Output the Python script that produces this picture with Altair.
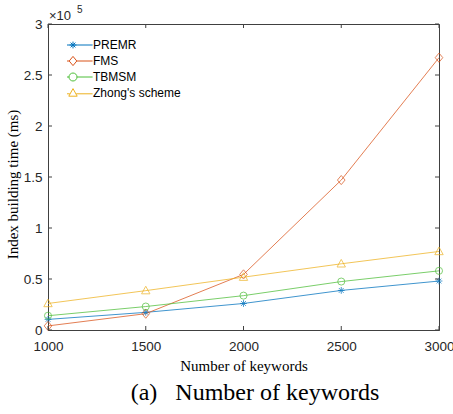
import altair as alt
import pandas as pd

# ---- data -------------------------------------------------------------
keywords = [1000, 1500, 2000, 2500, 3000]
series_names = ["PREMR", "FMS", "TBMSM", "Zhong's scheme"]
premr = [10400, 17300, 26000, 38800, 48000]
fms = [4000, 16000, 54500, 147000, 267000]
tbmsm = [14000, 23000, 33700, 47500, 58000]
zhong = [26000, 38600, 51800, 64900, 77000]
x_ticks = [1000, 1500, 2000, 2500, 3000]
y_ticks = [0, 50000, 100000, 150000, 200000, 250000, 300000]
colors = ["#0072BD", "#D95319", "#4DBE38", "#EDB120"]

# ---- styling ----------------------------------------------------------
W, H = 391, 306
AX = "#404040"
SANS = "Liberation Sans"
SERIF = "Liberation Serif"

marker_paths = [
    "M0,-0.85L0,0.85M-0.85,0L0.85,0M-0.6,-0.6L0.6,0.6M-0.6,0.6L0.6,-0.6",
    "M0,-1.15L0.95,0L0,1.15L-0.95,0Z",
    "circle",
    "M0,-1.1L1.05,0.8L-1.05,0.8Z",
]
circle_path = "M1,0A1,1 0 1,1 -1,0A1,1 0 1,1 1,0Z"
L = "4.9"
legend_paths = [
    f"M-{L},0L{L},0" + marker_paths[0],
    f"M-{L},0L-0.95,0M0.95,0L{L},0" + marker_paths[1],
    f"M-{L},0L-1,0M1,0L{L},0" + circle_path,
    f"M-{L},0.2L-0.8,0.2M0.8,0.2L{L},0.2" + marker_paths[3],
]

rows = []
for name, vals in zip(series_names, [premr, fms, tbmsm, zhong]):
    for k, v in zip(keywords, vals):
        rows.append({"series": name, "k": k, "t": v})
df = pd.DataFrame(rows)

xscale = alt.Scale(domain=[1000, 3000], nice=False, zero=False)
yscale = alt.Scale(domain=[0, 300000], nice=False)

x_main = alt.X(
    "k:Q", scale=xscale,
    axis=alt.Axis(values=x_ticks, ticks=False, grid=False, format="d",
                  labelPadding=9, labelFlush=False,
                  title="Number of keywords", titlePadding=6),
)
y_main = alt.Y(
    "t:Q", scale=yscale,
    axis=alt.Axis(values=y_ticks, ticks=False, grid=False,
                  labelExpr="'' + datum.value / 100000",
                  labelPadding=6,
                  title="Index building time (ms)", titlePadding=3,
                  titleY=160),
)
x_plain = alt.X("k:Q", scale=xscale)
y_plain = alt.Y("t:Q", scale=yscale)

layers = []
for i, (name, shape, col) in enumerate(zip(series_names, marker_paths, colors)):
    sub = df[df.series == name]
    layers.append(
        alt.Chart(sub).mark_line(strokeWidth=1, color=col, opacity=0.75).encode(
            x=x_main if i == 0 else x_plain, y=y_main if i == 0 else y_plain)
    )
for name, shape, col in zip(series_names, marker_paths, colors):
    size = 50 if shape == "circle" else 64
    layers.append(
        alt.Chart(df[df.series == name]).mark_point(
            shape=shape, size=size, filled=False, strokeWidth=1,
            color=col, opacity=0.7,
        ).encode(x=x_plain, y=y_plain)
    )

leg = alt.Legend(title=None, orient="none", legendX=19, legendY=13, padding=0,
                 rowPadding=0, clipHeight=16, symbolSize=64,
                 symbolStrokeWidth=1, symbolOpacity=1, labelOffset=14,
                 labelFont=SANS, labelFontSize=12, labelColor="#000000")
legend_layer = alt.Chart(df).mark_point(filled=False, opacity=0, size=64).encode(
    x=x_plain, y=y_plain,
    color=alt.Color("series:N",
                    scale=alt.Scale(domain=series_names, range=colors),
                    legend=leg),
    shape=alt.Shape("series:N",
                    scale=alt.Scale(domain=series_names, range=legend_paths),
                    legend=leg),
)
layers.append(legend_layer)

dfx = pd.DataFrame({"k": x_ticks})
dfy = pd.DataFrame({"t": y_ticks})
layers += [
    alt.Chart(dfx).mark_rule(color=AX, strokeWidth=1).encode(
        x=x_plain, y=alt.value(H), y2=alt.value(H - 4)),
    alt.Chart(dfx).mark_rule(color=AX, strokeWidth=1).encode(
        x=x_plain, y=alt.value(0), y2=alt.value(4)),
    alt.Chart(dfy).mark_rule(color=AX, strokeWidth=1).encode(
        y=y_plain, x=alt.value(0), x2=alt.value(4)),
    alt.Chart(dfy).mark_rule(color=AX, strokeWidth=1).encode(
        y=y_plain, x=alt.value(W), x2=alt.value(W - 4)),
]

layers += [
    alt.Chart(pd.DataFrame({"s": ["\u00d710"]})).mark_text(
        align="left", baseline="alphabetic", font=SANS, fontSize=13,
        color="#262626").encode(text="s:N", x=alt.value(1), y=alt.value(-4)),
    alt.Chart(pd.DataFrame({"s": ["5"]})).mark_text(
        align="left", baseline="alphabetic", font=SANS, fontSize=10,
        color="#262626").encode(text="s:N", x=alt.value(29), y=alt.value(-11)),
    alt.Chart(pd.DataFrame({"s": ["(a)\u00a0\u00a0\u00a0Number of keywords"]})).mark_text(
        align="center", baseline="alphabetic", font=SERIF, fontSize=24,
        color="#000000").encode(text="s:N", x=alt.value(207), y=alt.value(376)),
]

chart = alt.layer(*layers).properties(
    width=W, height=H,
    autosize=alt.AutoSizeParams(type="none"),
    padding={"left": 48, "top": 24, "right": 14, "bottom": 84},
    background="white",
).configure_view(
    stroke=AX, strokeWidth=1,
).configure_axis(
    domainColor=AX, domainWidth=1,
    labelFont=SANS, labelFontSize=13.5, labelColor="#262626",
    titleFont=SERIF, titleFontSize=15, titleFontWeight="normal",
    titleColor="#000000",
)

chart.save("out.html", embed_options={"renderer": "svg", "actions": False})
